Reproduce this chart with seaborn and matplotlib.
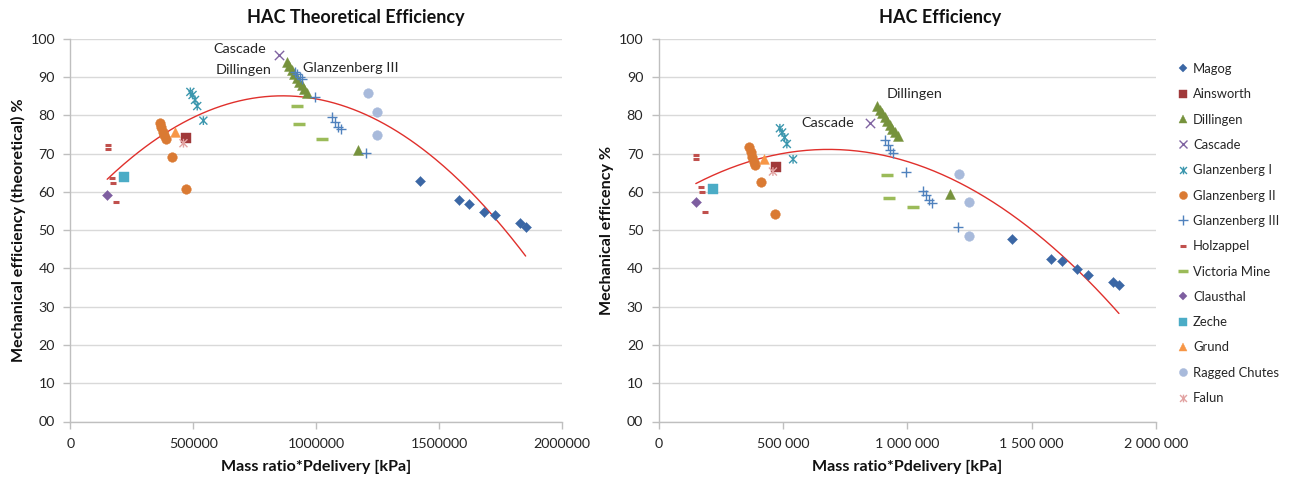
import numpy as np
import matplotlib
matplotlib.use("Agg")
import matplotlib.pyplot as plt
from matplotlib.markers import MarkerStyle
from matplotlib.path import Path
from matplotlib.lines import Line2D
from matplotlib.ticker import FuncFormatter
import seaborn as sns

# ---------------- data ----------------
series_names = ["Magog", "Ainsworth", "Dillingen", "Cascade", "Glanzenberg I",
                "Glanzenberg II", "Glanzenberg III", "Holzappel", "Victoria Mine",
                "Clausthal", "Zeche", "Grund", "Ragged Chutes", "Falun"]

magog_x = [1422000, 1579000, 1622000, 1681000, 1727000, 1828000, 1851000]
magog_theo = [62.8, 57.8, 56.7, 54.8, 53.9, 51.8, 50.9]
magog_eff = [47.7, 42.4, 41.8, 39.8, 38.3, 36.5, 35.6]

ainsworth_x = [471000]
ainsworth_theo = [74.1]
ainsworth_eff = [66.5]

dillingen_x = [880000, 890000, 900000, 910000, 920000, 930000, 940000, 950000, 962000, 1170000]
dillingen_theo = [93.8, 92.8, 91.8, 90.8, 89.8, 88.8, 87.8, 86.8, 85.8, 70.8]
dillingen_eff = [82.5, 81.5, 80.5, 79.5, 78.5, 77.5, 76.5, 75.5, 74.5, 59.3]

cascade_x = [850000]
cascade_theo = [95.7]
cascade_eff = [78.1]

glanz1_x = [488000, 497000, 507000, 516000, 541000]
glanz1_theo = [86.1, 85.3, 84.0, 82.4, 78.6]
glanz1_eff = [76.6, 75.5, 74.2, 72.5, 68.5]

glanz2_x = [363000, 370000, 376000, 382000, 388000, 413000, 470000]
glanz2_theo = [77.9, 77.0, 75.7, 74.8, 73.8, 69.2, 60.8]
glanz2_eff = [71.6, 70.4, 69.0, 67.8, 67.0, 62.6, 54.3]

glanz3_x = [912000, 922000, 932000, 942000, 993000, 1062000, 1076000, 1088000, 1100000, 1203000]
glanz3_theo = [91.4, 90.8, 90.0, 89.4, 84.7, 79.5, 78.3, 77.0, 76.5, 70.1]
glanz3_eff = [73.5, 72.2, 70.9, 70.2, 65.3, 60.2, 59.2, 57.9, 57.2, 50.7]

holz_x = [152000, 152000, 171000, 174000, 187000]
holz_theo = [72.2, 71.2, 63.5, 62.4, 57.3]
holz_eff = [69.6, 68.7, 61.2, 59.9, 54.8]

victoria_x = [920000, 928000, 1024000]
victoria_theo = [82.3, 77.7, 73.9]
victoria_eff = [64.4, 58.5, 56.1]

clausthal_x = [150000]
clausthal_theo = [59.2]
clausthal_eff = [57.3]

zeche_x = [220000]
zeche_theo = [63.8]
zeche_eff = [60.7]

grund_x = [426000]
grund_theo = [75.6]
grund_eff = [68.6]

ragged_x = [1210000, 1248000, 1248000]
ragged_theo = [85.7, 80.8, 74.9]
ragged_eff = [64.7, 57.4, 48.4]

falun_x = [460000]
falun_theo = [72.7]
falun_eff = [65.3]

x_ticks = [0, 500000, 1000000, 1500000, 2000000]
y_ticks = [0, 10, 20, 30, 40, 50, 60, 70, 80, 90, 100]

# ---------------- styling ----------------
sns.set_theme(style="white")
plt.rcParams["font.family"] = ["Lato", "DejaVu Sans"]

star_path = Path([(-1, -1), (1, 1), (-1, 1), (1, -1), (0, -1.1), (0, 1.1)],
                 [Path.MOVETO, Path.LINETO, Path.MOVETO, Path.LINETO, Path.MOVETO, Path.LINETO])
star = MarkerStyle(star_path, fillstyle="none")

styles = {
    "Magog":           dict(marker="D", color="#3B67A5", s=26, filled=True),
    "Ainsworth":       dict(marker="s", color="#A0393A", s=42, filled=True),
    "Dillingen":       dict(marker="^", color="#76923C", s=52, filled=True),
    "Cascade":         dict(marker="x", color="#8064A2", s=45, filled=False),
    "Glanzenberg I":   dict(marker=star, color="#3C97AE", s=40, filled=False),
    "Glanzenberg II":  dict(marker="o", color="#DA7A33", s=48, filled=True),
    "Glanzenberg III": dict(marker="+", color="#4F81BD", s=60, filled=False),
    "Holzappel":       dict(marker="_", color="#C0504D", s=20, filled=False, lw=2.2),
    "Victoria Mine":   dict(marker="_", color="#9BBB59", s=70, filled=False, lw=2.5),
    "Clausthal":       dict(marker="D", color="#7E5EA0", s=26, filled=True),
    "Zeche":           dict(marker="s", color="#4BACC6", s=50, filled=True),
    "Grund":           dict(marker="^", color="#F79646", s=50, filled=True),
    "Ragged Chutes":   dict(marker="o", color="#A8BADB", s=48, filled=True),
    "Falun":           dict(marker=star, color="#E2A3A2", s=40, filled=False),
}

theo_data = {
    "Magog": (magog_x, magog_theo), "Ainsworth": (ainsworth_x, ainsworth_theo),
    "Dillingen": (dillingen_x, dillingen_theo), "Cascade": (cascade_x, cascade_theo),
    "Glanzenberg I": (glanz1_x, glanz1_theo), "Glanzenberg II": (glanz2_x, glanz2_theo),
    "Glanzenberg III": (glanz3_x, glanz3_theo), "Holzappel": (holz_x, holz_theo),
    "Victoria Mine": (victoria_x, victoria_theo), "Clausthal": (clausthal_x, clausthal_theo),
    "Zeche": (zeche_x, zeche_theo), "Grund": (grund_x, grund_theo),
    "Ragged Chutes": (ragged_x, ragged_theo), "Falun": (falun_x, falun_theo),
}
eff_data = {
    "Magog": (magog_x, magog_eff), "Ainsworth": (ainsworth_x, ainsworth_eff),
    "Dillingen": (dillingen_x, dillingen_eff), "Cascade": (cascade_x, cascade_eff),
    "Glanzenberg I": (glanz1_x, glanz1_eff), "Glanzenberg II": (glanz2_x, glanz2_eff),
    "Glanzenberg III": (glanz3_x, glanz3_eff), "Holzappel": (holz_x, holz_eff),
    "Victoria Mine": (victoria_x, victoria_eff), "Clausthal": (clausthal_x, clausthal_eff),
    "Zeche": (zeche_x, zeche_eff), "Grund": (grund_x, grund_eff),
    "Ragged Chutes": (ragged_x, ragged_eff), "Falun": (falun_x, falun_eff),
}

W, H = 1290, 479
fig = plt.figure(figsize=(W / 100, H / 100), dpi=100)
ax1 = fig.add_axes([70.3 / W, 1 - 421.5 / H, (562.3 - 70.3) / W, (421.5 - 38.7) / H])
ax2 = fig.add_axes([658.5 / W, 1 - 421.5 / H, (1156 - 658.5) / W, (421.5 - 38.7) / H])

TICK_FS = 10.3
GRID = "#D9D9D9"
AXC = "#BFBFBF"


def draw(ax, data):
    for name in series_names:
        xs, ys = data[name]
        st = styles[name]
        kw = dict(marker=st["marker"], s=st["s"], color=st["color"], legend=False, zorder=3)
        if st["filled"]:
            kw.update(edgecolor=st["color"], linewidth=0.3)
        else:
            kw.update(linewidth=st.get("lw", 1.0))
        sns.scatterplot(x=xs, y=ys, ax=ax, **kw)
    # polynomial (order 2) trendline over all points
    allx = np.concatenate([np.asarray(data[n][0], float) for n in series_names])
    ally = np.concatenate([np.asarray(data[n][1], float) for n in series_names])
    coef = np.polyfit(allx, ally, 2)
    xx = np.linspace(allx.min(), allx.max(), 200)
    sns.lineplot(x=xx, y=np.polyval(coef, xx), ax=ax, color="#E0302C", linewidth=1.0,
                 zorder=2, legend=False)

    ax.set_xlim(0, 2000000)
    ax.set_ylim(0, 100)
    ax.set_xticks(x_ticks)
    ax.set_yticks(y_ticks)
    ax.yaxis.set_major_formatter(FuncFormatter(lambda v, p: f"{int(round(v)):02d}"))
    ax.grid(axis="y", color=GRID, linewidth=1.0)
    ax.grid(axis="x", visible=False)
    ax.set_axisbelow(True)
    for sp in ["top", "right"]:
        ax.spines[sp].set_visible(False)
    for sp in ["left", "bottom"]:
        ax.spines[sp].set_color(AXC)
        ax.spines[sp].set_linewidth(1.0)
    ax.tick_params(axis="both", which="major", length=5, width=1, color=AXC,
                   labelsize=TICK_FS, labelcolor="#262626", direction="out",
                   left=True, bottom=True)
    ax.tick_params(axis="x", pad=7)
    ax.tick_params(axis="y", pad=6)


draw(ax1, theo_data)
draw(ax2, eff_data)

ax1.xaxis.set_major_formatter(FuncFormatter(lambda v, p: f"{int(v)}"))
ax2.xaxis.set_major_formatter(FuncFormatter(lambda v, p: f"{int(v):,}".replace(",", " ")))

LBL_FS = 11.6
ax1.set_xlabel("Mass ratio*Pdelivery [kPa]", fontsize=LBL_FS, fontweight="bold", labelpad=7, color="#111111")
ax2.set_xlabel("Mass ratio*Pdelivery [kPa]", fontsize=LBL_FS, fontweight="bold", labelpad=7, color="#111111")
ax1.set_ylabel("Mechanical efficiency (theoretical) %", fontsize=LBL_FS, fontweight="bold", labelpad=3, color="#111111")
ax2.set_ylabel("Mechanical efficency %", fontsize=LBL_FS, fontweight="bold", labelpad=3, color="#111111")

TITLE_FS = 13.0
fig.text(356 / W, 1 - 17.5 / H, "HAC Theoretical Efficiency", ha="center", va="center",
         fontsize=TITLE_FS, fontweight="bold", color="#111111")
fig.text(940 / W, 1 - 17.5 / H, "HAC Efficiency", ha="center", va="center",
         fontsize=TITLE_FS, fontweight="bold", color="#111111")

# data labels
ANN_FS = 10.4
ax1.text(690000, 97.3, "Cascade", ha="center", va="center", fontsize=ANN_FS, color="#262626")
ax1.text(703000, 91.8, "Dillingen", ha="center", va="center", fontsize=ANN_FS, color="#262626")
ax1.text(1140000, 92.4, "Glanzenberg III", ha="center", va="center", fontsize=ANN_FS, color="#262626")
ax2.text(1031000, 85.5, "Dillingen", ha="center", va="center", fontsize=ANN_FS, color="#262626")
ax2.text(679000, 77.9, "Cascade", ha="center", va="center", fontsize=ANN_FS, color="#262626")

# legend
LEG_FS = 9.4
handles = []
for name in series_names:
    st = styles[name]
    ms = {"D": 4.2, "s": 5.5, "^": 5.5, "x": 5.5, "o": 5.8, "+": 6.5, "_": 5.0}
    m = st["marker"]
    key = m if isinstance(m, str) else "x"
    size = ms.get(key, 5.5)
    if name == "Victoria Mine":
        size = 7.5
    if name == "Holzappel":
        size = 4.0
    h = Line2D([], [], linestyle="none", marker=m, markersize=size,
               color=st["color"], markerfacecolor=st["color"] if st["filled"] else "none",
               markeredgecolor=st["color"], markeredgewidth=st.get("lw", 1.0) if not st["filled"] else 0.3)
    handles.append(h)
fig.legend(handles, series_names, loc="upper left", bbox_to_anchor=(1178 / W, 1 - 63 / H),
           frameon=False, fontsize=LEG_FS, handlelength=0.8, handletextpad=0.35,
           labelspacing=1.02, borderaxespad=0, borderpad=0, labelcolor="#262626")

fig.savefig("out.png", dpi=100)
